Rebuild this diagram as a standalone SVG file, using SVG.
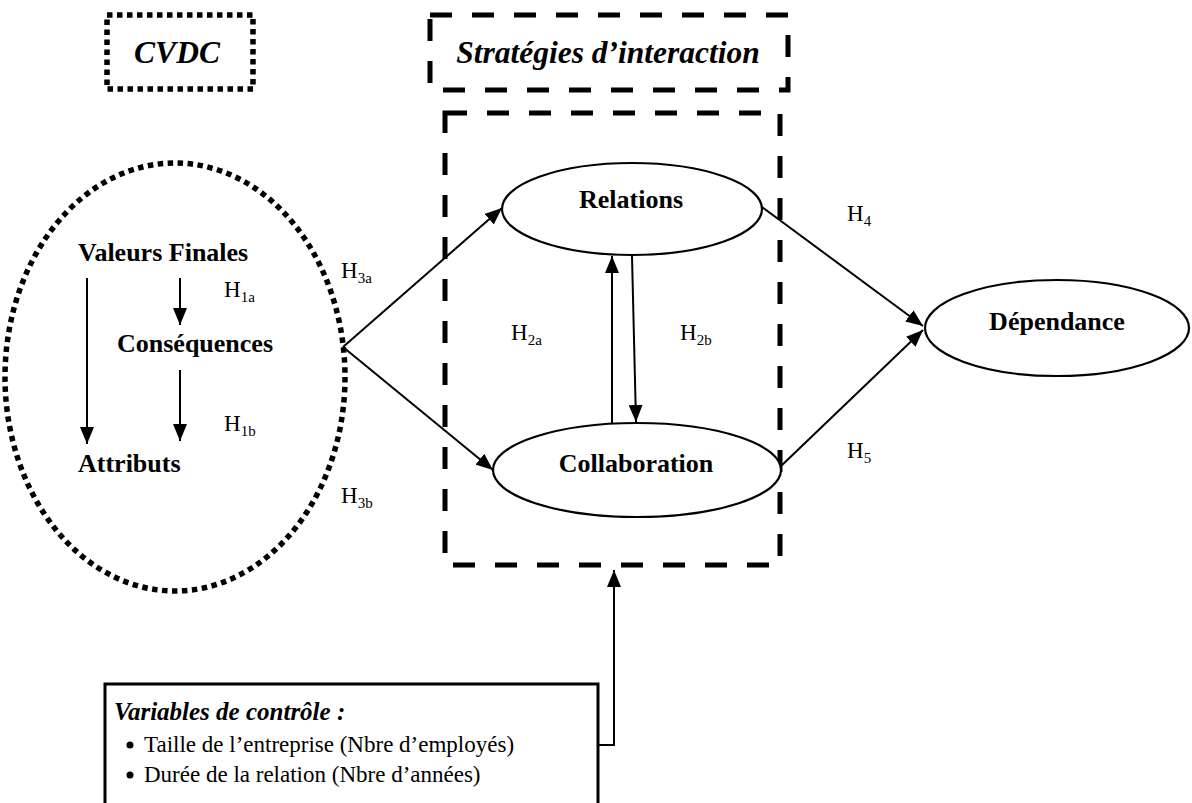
<svg xmlns="http://www.w3.org/2000/svg" width="1192" height="803" viewBox="0 0 1192 803">
<style>
  .dot { fill: none; stroke: #000; stroke-width: 5.5; stroke-dasharray: 5.5 4.5; }
  .dash { fill: none; stroke: #000; stroke-width: 5; stroke-dasharray: 22 20; }
  .node { fill: #fff; stroke: #000; stroke-width: 2.2; }
  .conn { fill: none; stroke: #000; stroke-width: 2; }
  .lbl { font-family: "Liberation Serif", "Times New Roman", serif; font-weight: bold; font-size: 26px; fill: #000; }
  .title { font-family: "Liberation Serif", "Times New Roman", serif; font-weight: bold; font-style: italic; font-size: 31.5px; fill: #000; }
  .h { font-family: "Liberation Serif", "Times New Roman", serif; font-size: 23px; fill: #000; }
  .sub { font-size: 15px; }
  .body { font-family: "Liberation Serif", "Times New Roman", serif; font-size: 23px; fill: #000; }
  .bi { font-weight: bold; font-style: italic; font-size: 25px; }
</style>
<defs>
  <marker id="arr" viewBox="0 0 17 14" refX="17" refY="7" markerWidth="17" markerHeight="14" markerUnits="userSpaceOnUse" orient="auto">
    <path d="M0,0 L17,7 L0,14 Z" fill="#000"/>
  </marker>
</defs>
<rect width="1192" height="803" fill="#fff"/>

<g id="cvdc-title">
  <rect x="107" y="15" width="146" height="74" class="dot"/>
  <text x="177" y="63" text-anchor="middle" class="title">CVDC</text>
</g>

<g id="strategies-title">
  <rect x="430" y="15" width="358" height="75" class="dash"/>
  <text x="608" y="63" text-anchor="middle" class="title">Stratégies d’interaction</text>
</g>

<g id="strategies-box">
  <rect x="445" y="113" width="335" height="452" class="dash"/>
</g>

<g id="cvdc">
  <ellipse cx="175" cy="377" rx="170" ry="214" class="dot"/>
  <text x="78" y="261" class="lbl">Valeurs Finales</text>
  <text x="195" y="352" text-anchor="middle" class="lbl">Conséquences</text>
  <text x="78" y="472" class="lbl">Attributs</text>
</g>

<g id="relations">
  <ellipse cx="632" cy="209" rx="130" ry="46" class="node"/>
  <text x="631" y="208" text-anchor="middle" class="lbl">Relations</text>
</g>

<g id="collaboration">
  <ellipse cx="637" cy="470" rx="144" ry="47" class="node"/>
  <text x="636" y="472" text-anchor="middle" class="lbl">Collaboration</text>
</g>

<g id="dependance">
  <ellipse cx="1057" cy="328" rx="132" ry="48" class="node"/>
  <text x="1057" y="330" text-anchor="middle" class="lbl">Dépendance</text>
</g>

<g id="controle">
  <rect x="105" y="684" width="493" height="130" fill="#fff" stroke="#000" stroke-width="3"/>
  <text x="114" y="720" class="body bi">Variables de contrôle :</text>
  <circle cx="130" cy="745" r="3.5" fill="#000"/>
  <text x="144" y="752" class="body">Taille de l’entreprise (Nbre d’employés)</text>
  <circle cx="130" cy="775" r="3.5" fill="#000"/>
  <text x="144" y="782" class="body">Durée de la relation (Nbre d’années)</text>
</g>

<g id="connectors">
  <line x1="87" y1="278" x2="87" y2="444" class="conn" marker-end="url(#arr)"/>
  <line x1="180" y1="278" x2="180" y2="325" class="conn" marker-end="url(#arr)"/>
  <line x1="180" y1="370" x2="180" y2="441" class="conn" marker-end="url(#arr)"/>
  <line x1="343" y1="347" x2="502" y2="208" class="conn" marker-end="url(#arr)"/>
  <line x1="343" y1="347" x2="493" y2="470" class="conn" marker-end="url(#arr)"/>
  <line x1="612" y1="423" x2="612" y2="256" class="conn" marker-end="url(#arr)"/>
  <line x1="632" y1="256" x2="636" y2="422" class="conn" marker-end="url(#arr)"/>
  <line x1="762" y1="207" x2="923" y2="326" class="conn" marker-end="url(#arr)"/>
  <line x1="780" y1="467" x2="923" y2="330" class="conn" marker-end="url(#arr)"/>
  <polyline points="598,745 614,745 614,570" class="conn" marker-end="url(#arr)"/>
</g>

<g id="labels">
  <text x="224" y="297" class="h">H<tspan class="sub" dy="5">1a</tspan></text>
  <text x="224" y="431" class="h">H<tspan class="sub" dy="5">1b</tspan></text>
  <text x="341" y="278" class="h">H<tspan class="sub" dy="5">3a</tspan></text>
  <text x="341" y="503" class="h">H<tspan class="sub" dy="5">3b</tspan></text>
  <text x="511" y="340" class="h">H<tspan class="sub" dy="5">2a</tspan></text>
  <text x="680" y="340" class="h">H<tspan class="sub" dy="5">2b</tspan></text>
  <text x="847" y="221" class="h">H<tspan class="sub" dy="5">4</tspan></text>
  <text x="847" y="458" class="h">H<tspan class="sub" dy="5">5</tspan></text>
</g>
</svg>
